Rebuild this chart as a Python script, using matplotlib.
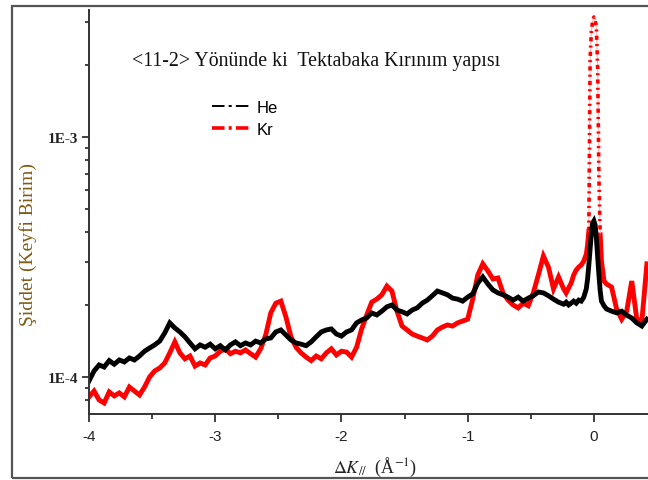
import numpy as np
import matplotlib
matplotlib.use('Agg')
import matplotlib.pyplot as plt
from matplotlib.lines import Line2D
from matplotlib.patches import Rectangle
from matplotlib.ticker import LogLocator, NullFormatter

# momentum transfer grid (1/A), finer around the specular peak
delta_k = [-4.00, -3.96, -3.92, -3.88, -3.84, -3.80, -3.76, -3.72, -3.68, -3.64,
           -3.60, -3.56, -3.52, -3.48, -3.44, -3.40, -3.36, -3.32, -3.28, -3.24,
           -3.20, -3.16, -3.12, -3.08, -3.04, -3.00, -2.96, -2.92, -2.88, -2.84,
           -2.80, -2.76, -2.72, -2.68, -2.64, -2.60, -2.56, -2.52, -2.48, -2.44,
           -2.40, -2.36, -2.32, -2.28, -2.24, -2.20, -2.16, -2.12, -2.08, -2.04,
           -2.00, -1.96, -1.92, -1.88, -1.84, -1.80, -1.76, -1.72, -1.68, -1.64,
           -1.60, -1.56, -1.52, -1.48, -1.44, -1.40, -1.36, -1.32, -1.28, -1.24,
           -1.20, -1.16, -1.12, -1.08, -1.04, -1.00, -0.96, -0.92, -0.88, -0.84,
           -0.80, -0.76, -0.72, -0.68, -0.64, -0.60, -0.56, -0.52, -0.48, -0.44,
           -0.40, -0.36, -0.32, -0.28, -0.24, -0.22, -0.20, -0.18, -0.16, -0.14,
           -0.12, -0.10, -0.08, -0.06, -0.05, -0.04, -0.03, -0.02, -0.01, 0.00,
           0.01, 0.02, 0.03, 0.04, 0.05, 0.06, 0.08, 0.10, 0.14, 0.18,
           0.22, 0.26, 0.30, 0.34, 0.38, 0.42]

# He intensity, units of 1E-4
he_int = [0.962, 1.059, 1.122, 1.10, 1.17, 1.13, 1.177, 1.155, 1.20, 1.177,
          1.223, 1.28, 1.32, 1.36, 1.41, 1.525, 1.68, 1.60, 1.54, 1.47,
          1.386, 1.31, 1.36, 1.33, 1.37, 1.31, 1.35, 1.296, 1.36, 1.40,
          1.35, 1.386, 1.36, 1.41, 1.386, 1.44, 1.454, 1.54, 1.57, 1.496,
          1.426, 1.386, 1.37, 1.35, 1.40, 1.47, 1.54, 1.57, 1.585, 1.51,
          1.48, 1.54, 1.57, 1.68, 1.728, 1.762, 1.848, 1.813, 1.88, 1.96,
          1.995, 1.90, 1.87, 1.83, 1.90, 1.94, 2.03, 2.09, 2.18, 2.28,
          2.24, 2.20, 2.13, 2.11, 2.07, 2.15, 2.22, 2.46, 2.61, 2.44,
          2.305, 2.24, 2.20, 2.15, 2.09, 2.15, 2.07, 2.13, 2.18, 2.26,
          2.24, 2.18, 2.11, 2.05, 2.01, 2.05, 1.995, 2.03, 2.07, 2.03,
          2.09, 2.07, 2.15, 2.33, 2.56, 2.93, 3.41, 3.98, 4.38, 4.47,
          4.30, 3.76, 3.16, 2.66, 2.28, 2.07, 1.98, 1.92, 1.88, 1.85,
          1.88, 1.81, 1.76, 1.68, 1.63, 1.74]

# Kr intensity, units of 1E-4
kr_int = [0.826, 0.874, 0.802, 0.779, 0.866, 0.834, 0.858, 0.826, 0.908, 0.874,
          0.841, 0.908, 1.00, 1.059, 1.09, 1.144, 1.26, 1.40, 1.26, 1.19,
          1.223, 1.11, 1.144, 1.122, 1.20, 1.223, 1.28, 1.31, 1.25, 1.28,
          1.26, 1.296, 1.25, 1.21, 1.31, 1.496, 1.848, 2.03, 2.07, 1.78,
          1.47, 1.33, 1.26, 1.21, 1.17, 1.223, 1.19, 1.26, 1.31, 1.235,
          1.28, 1.27, 1.21, 1.33, 1.585, 1.81, 2.05, 2.11, 2.20, 2.39,
          2.28, 1.88, 1.63, 1.57, 1.51, 1.48, 1.454, 1.426, 1.48, 1.57,
          1.615, 1.647, 1.63, 1.68, 1.71, 1.74, 2.11, 2.66, 2.96, 2.765,
          2.56, 2.585, 2.24, 2.09, 1.995, 1.94, 2.03, 1.98, 2.24, 2.66,
          3.19, 2.87, 2.33, 2.61, 2.33, 2.24, 2.35, 2.46, 2.66, 2.79,
          2.87, 2.93, 3.04, 3.25, 3.55, 4.06, 21.1, 27.6, 30.4, 31.6,
          31.0, 28.2, 19.2, 6.68, 3.91, 3.04, 2.51, 2.44, 2.37, 1.92,
          1.74, 1.88, 2.51, 1.74, 1.71, 2.96]

series_labels = ['He', 'Kr']
x_ticks = [-4, -3, -2, -1, 0]
y_ticks = [1e-4, 1e-3]
y_tick_labels = ['1E-4', '1E-3']

k = np.array(delta_k)
he = np.array(he_int) * 1e-4
kr = np.array(kr_int) * 1e-4

plt.rcParams['lines.scale_dashes'] = False
plt.rcParams['mathtext.fontset'] = 'stix'
plt.rcParams['axes.unicode_minus'] = False

W, H = 648, 481
fig = plt.figure(figsize=(W / 100, H / 100), dpi=100)
fig.patch.set_facecolor('white')

# outer frame
fig.patches.append(Rectangle((12 / W, 2 / H), 1.0, 472 / H, transform=fig.transFigure,
                             fill=False, edgecolor='#555555', linewidth=1.6, clip_on=False))

ax = fig.add_axes([89 / W, 66 / H, 568 / W, 404 / H])

# Kr: solid trace away from the peak, dash-dot on the steep specular peak
peak = (k >= -0.04) & (k <= 0.05)
left = k <= -0.04
right = k >= 0.05
ax.plot(k[left], kr[left], color='red', lw=3.5, solid_joinstyle='miter')
ax.plot(k[right], kr[right], color='red', lw=3.5, solid_joinstyle='miter')
ax.plot(k[peak], kr[peak], color='#ffb4b4', lw=0.8)
ax.plot(k[peak], kr[peak], color='red', lw=2.6, linestyle=(0, (3, 3, 1.5, 3)))

ax.plot(k, he, color='black', lw=3.5, solid_joinstyle='miter')

ax.set_yscale('log')
ax.set_xlim(-4, 0.5)
ax.set_ylim(7.01e-5, 3.38e-3)

ax.set_xticks(x_ticks)
ax.set_xticks([-3.5, -2.5, -1.5, -0.5], minor=True)
ax.set_yticks(y_ticks)
ax.set_yticklabels(y_tick_labels)
ax.yaxis.set_minor_locator(LogLocator(base=10, subs=np.arange(2, 10)))
ax.yaxis.set_minor_formatter(NullFormatter())

for s in ['top', 'right']:
    ax.spines[s].set_visible(False)
for s in ['left', 'bottom']:
    ax.spines[s].set_color('#333333')
    ax.spines[s].set_linewidth(1.4)

ax.tick_params(axis='x', which='major', direction='out', length=6, width=1.3,
               color='#333333', pad=5, labelsize=11, labelcolor='#222222')
ax.tick_params(axis='x', which='minor', direction='out', length=3.5, width=1.3, color='#333333')
ax.tick_params(axis='y', which='major', direction='out', length=5, width=1.3,
               color='#333333', pad=3, labelsize=11, labelcolor='#222222')
ax.tick_params(axis='y', which='minor', direction='out', length=3, width=1.3, color='#333333')
for lab in ax.get_xticklabels():
    lab.set_family('Liberation Sans')
for lab in ax.get_yticklabels():
    lab.set_family('Liberation Serif')
    lab.set_fontweight('bold')

# titles and axis names
fig.text(132 / W, 1 - 66 / H, '<11-2> Yönünde ki  Tektabaka Kırınım yapısı',
         family='Liberation Serif', fontsize=14.3, color='#111111', va='baseline', ha='left')
fig.text(28 / W, 1 - 245 / H, 'Şiddet (Keyfi Birim)', rotation=90, family='Liberation Serif',
         fontsize=14, color='#7f5a14', ha='center', va='center')
fig.text(375 / W, 1 - 467 / H, r'$\Delta K_{//}$  (Å$^{-1}$)', family='Liberation Serif',
         fontsize=13, color='#222222', ha='center', va='center')

handles = [Line2D([], [], color='black', lw=1.4, linestyle=(0, (9, 3, 2.2, 3))),
           Line2D([], [], color='red', lw=2.6, linestyle=(0, (9, 3, 2.2, 3)))]
ax.legend(handles, series_labels, loc='upper left', bbox_to_anchor=(212 / W, 1 - 101 / H),
          bbox_transform=fig.transFigure, frameon=False, borderpad=0, borderaxespad=0,
          handlelength=2.4, handletextpad=0.25, labelspacing=0.4,
          prop={'family': 'Liberation Sans', 'size': 12})

fig.savefig('out.png', dpi=100)
